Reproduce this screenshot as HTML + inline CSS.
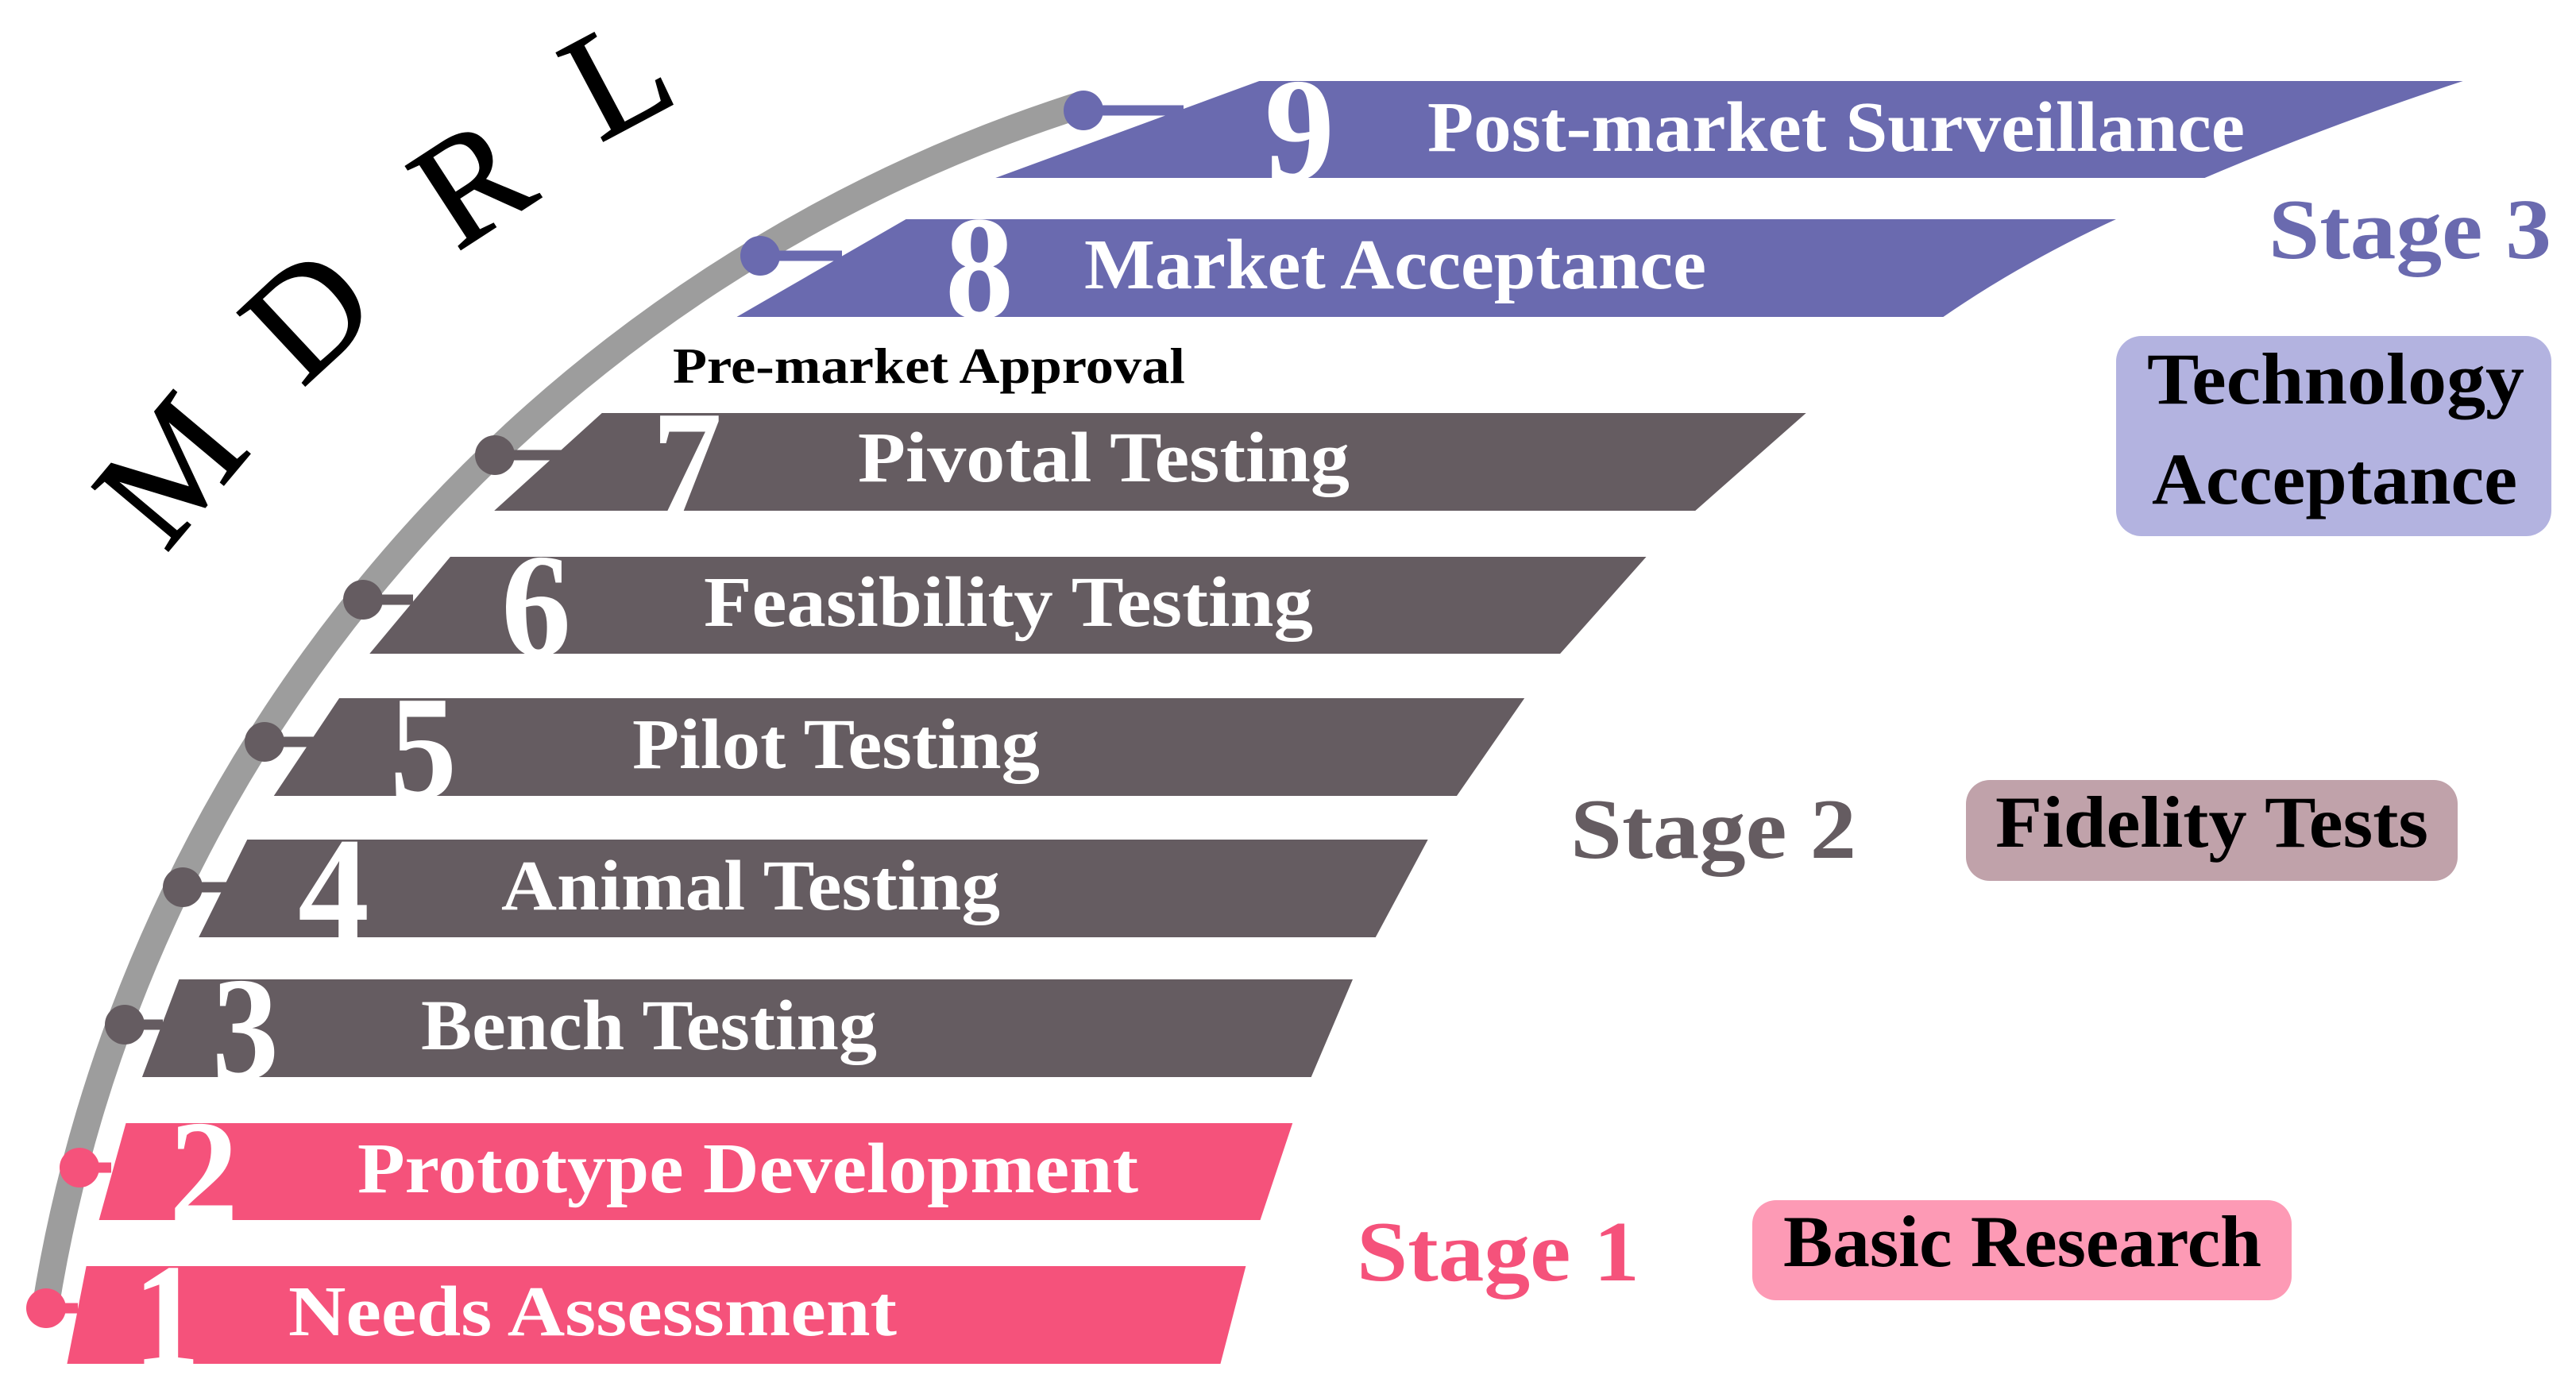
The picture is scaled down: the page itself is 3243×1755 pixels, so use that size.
<!DOCTYPE html>
<html><head><meta charset="utf-8"><style>
html,body{margin:0;padding:0;background:#fff;}
svg{display:block;}
text{font-family:"Liberation Serif",serif;}
</style></head><body>
<svg width="3243" height="1755" viewBox="0 0 3243 1755" xmlns="http://www.w3.org/2000/svg">
<rect width="3243" height="1755" fill="#fff"/>
<!-- MDRL -->
<g font-size="192" fill="#000" text-anchor="middle" stroke="#000" stroke-width="2">
<text transform="translate(215,592) rotate(-50)" x="0" y="63">M</text>
<text transform="translate(388,396) rotate(-43)" x="0" y="63">D</text>
<text transform="translate(594,230) rotate(-33)" x="0" y="63">R</text>
<text transform="translate(777,97) rotate(-28)" x="0" y="63">L</text>
</g>
<!-- arc -->
<path d="M57,1647 A1906,1906 0 0 1 1364,131" fill="none" stroke="#9d9d9d" stroke-width="34"/>
<!-- bars -->
<g stroke="#fff" stroke-width="4" stroke-linejoin="miter">
<path d="M1585,100 L3113,100 Q2930,160 2776,226 L1242,226 Z" fill="#6a6aaf"/>
<path d="M1140,274 L2673,274 Q2550,330 2447,401 L920,401 Z" fill="#6a6aaf"/>
<path d="M757,518 L2279,518 L2135,645 L617,645 Z" fill="#655c61"/>
<path d="M566,699 L2077,699 L1965,825 L461,825 Z" fill="#655c61"/>
<path d="M426,877 L1923,877 L1835,1004 L341,1004 Z" fill="#655c61"/>
<path d="M310,1055 L1801,1055 L1733,1182 L247,1182 Z" fill="#655c61"/>
<path d="M224,1231 L1706,1231 L1652,1358 L176,1358 Z" fill="#655c61"/>
<path d="M157,1412 L1630,1412 L1588,1538 L122,1538 Z" fill="#f5527b"/>
<path d="M107,1592 L1571,1592 L1538,1719 L82,1719 Z" fill="#f5527b"/>
</g>
<!-- connectors + dots -->
<g stroke-width="13">
<line x1="1364" y1="139" x2="1490" y2="139" stroke="#6a6aaf"/>
<line x1="957" y1="322" x2="1060" y2="322" stroke="#6a6aaf"/>
<line x1="623" y1="573" x2="712" y2="573" stroke="#655c61"/>
<line x1="457" y1="755" x2="520" y2="755" stroke="#655c61"/>
<line x1="333" y1="934" x2="412" y2="934" stroke="#655c61"/>
<line x1="230" y1="1117" x2="285" y2="1117" stroke="#655c61"/>
<line x1="157" y1="1290" x2="205" y2="1290" stroke="#655c61"/>
<line x1="100" y1="1470" x2="140" y2="1470" stroke="#f5527b"/>
<line x1="58" y1="1647" x2="98" y2="1647" stroke="#f5527b"/>
</g>
<circle cx="1364" cy="139" r="25" fill="#6a6aaf"/>
<circle cx="957" cy="322" r="25" fill="#6a6aaf"/>
<circle cx="623" cy="573" r="25" fill="#655c61"/>
<circle cx="457" cy="755" r="25" fill="#655c61"/>
<circle cx="333" cy="934" r="25" fill="#655c61"/>
<circle cx="230" cy="1117" r="25" fill="#655c61"/>
<circle cx="157" cy="1290" r="25" fill="#655c61"/>
<circle cx="100" cy="1470" r="25" fill="#f5527b"/>
<circle cx="58" cy="1647" r="25" fill="#f5527b"/>
<!-- digits -->
<g fill="#fff" font-size="186" font-weight="bold">
<text x="1592" y="226" textLength="88" lengthAdjust="spacingAndGlyphs">9</text>
<text x="1190" y="400" textLength="86" lengthAdjust="spacingAndGlyphs">8</text>
<text x="821" y="645" textLength="88" lengthAdjust="spacingAndGlyphs">7</text>
<text x="631" y="825" textLength="88" lengthAdjust="spacingAndGlyphs">6</text>
<text x="491" y="1004" textLength="84" lengthAdjust="spacingAndGlyphs">5</text>
<text x="375" y="1182" textLength="90" lengthAdjust="spacingAndGlyphs">4</text>
<text x="267" y="1358" textLength="84" lengthAdjust="spacingAndGlyphs">3</text>
<text x="213" y="1538" textLength="87" lengthAdjust="spacingAndGlyphs">2</text>
<text x="168" y="1719" textLength="84" lengthAdjust="spacingAndGlyphs">1</text>
</g>
<!-- bar labels -->
<g fill="#fff" font-size="90" font-weight="bold">
<text x="1797" y="190" textLength="1029" lengthAdjust="spacingAndGlyphs">Post-market Surveillance</text>
<text x="1365" y="363" textLength="783" lengthAdjust="spacingAndGlyphs">Market Acceptance</text>
<text x="1080" y="606" textLength="619" lengthAdjust="spacingAndGlyphs">Pivotal Testing</text>
<text x="886" y="788" textLength="767" lengthAdjust="spacingAndGlyphs">Feasibility Testing</text>
<text x="796" y="967" textLength="513" lengthAdjust="spacingAndGlyphs">Pilot Testing</text>
<text x="631" y="1145" textLength="628" lengthAdjust="spacingAndGlyphs">Animal Testing</text>
<text x="530" y="1321" textLength="574" lengthAdjust="spacingAndGlyphs">Bench Testing</text>
<text x="450" y="1501" textLength="983" lengthAdjust="spacingAndGlyphs">Prototype Development</text>
<text x="363" y="1681" textLength="766" lengthAdjust="spacingAndGlyphs">Needs Assessment</text>
</g>
<text x="847" y="482" font-size="64" font-weight="bold" fill="#000" textLength="645" lengthAdjust="spacingAndGlyphs">Pre-market Approval</text>
<!-- stages -->
<g font-size="108" font-weight="bold">
<text x="2856" y="325" fill="#6a6aaf" textLength="356" lengthAdjust="spacingAndGlyphs">Stage 3</text>
<text x="1977" y="1080" fill="#655c61" textLength="360" lengthAdjust="spacingAndGlyphs">Stage 2</text>
<text x="1708" y="1612" fill="#f5527b" textLength="356" lengthAdjust="spacingAndGlyphs">Stage 1</text>
</g>
<rect x="2664" y="423" width="548" height="252" rx="32" fill="#b3b3e0"/>
<rect x="2475" y="982" width="619" height="127" rx="30" fill="#c0a2aa"/>
<rect x="2206" y="1511" width="679" height="126" rx="30" fill="#fd9ab5"/>
<g font-size="92" font-weight="bold" fill="#000">
<text x="2703" y="508" textLength="475" lengthAdjust="spacingAndGlyphs">Technology</text>
<text x="2709" y="634" textLength="460" lengthAdjust="spacingAndGlyphs">Acceptance</text>
<text x="2512" y="1066" textLength="545" lengthAdjust="spacingAndGlyphs">Fidelity Tests</text>
<text x="2245" y="1594" textLength="602" lengthAdjust="spacingAndGlyphs">Basic Research</text>
</g>
</svg>
</body></html>
